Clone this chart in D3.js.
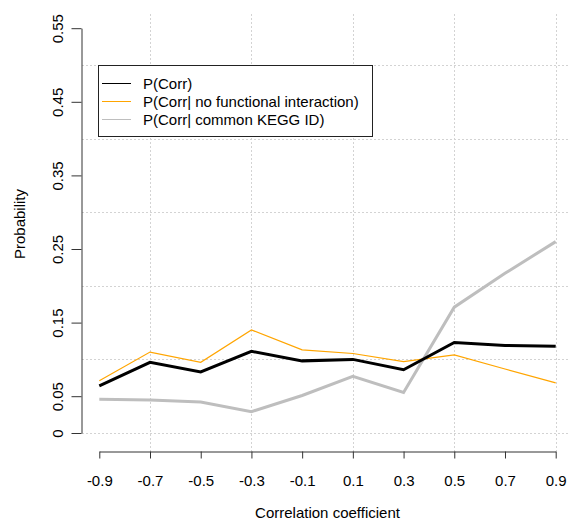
<!DOCTYPE html>
<html>
<head>
<meta charset="utf-8">
<script src="https://cdn.jsdelivr.net/npm/d3@7"></script>
<style>
body { margin: 0; background: #fff; }
text { font-family: "Liberation Sans", Arial, sans-serif; }
</style>
</head>
<body>
<script>
//chart values
var xVals = [-0.9, -0.7, -0.5, -0.3, -0.1, 0.1, 0.3, 0.5, 0.7, 0.9];
var xTickLabels = ["-0.9", "-0.7", "-0.5", "-0.3", "-0.1", "0.1", "0.3", "0.5", "0.7", "0.9"];
var pCorr = [0.064, 0.096, 0.083, 0.111, 0.098, 0.100, 0.086, 0.123, 0.119, 0.118];
var pNoFunc = [0.071, 0.110, 0.096, 0.140, 0.113, 0.108, 0.097, 0.106, 0.087, 0.068];
var pKegg = [0.046, 0.045, 0.042, 0.029, 0.051, 0.077, 0.055, 0.171, 0.217, 0.260];
var yTicks = [0, 0.05, 0.15, 0.25, 0.35, 0.45, 0.55];
var yTickLabels = ["0", "0.05", "0.15", "0.25", "0.35", "0.45", "0.55"];
var xGrid = [-0.7, -0.3, 0.1, 0.5, 0.9];
var yGrid = [0, 0.1, 0.2, 0.3, 0.4, 0.5];
var legendLabels = ["P(Corr)", "P(Corr| no functional interaction)", "P(Corr| common KEGG ID)"];
var legendColors = ["#000000", "#ffa500", "#bebebe"];

window.onload = drawChart();

function drawChart(){

    var width = 568,
        height = 525;

    var svg = d3.select("body")
        .append("svg")
        .attr("width", width)
        .attr("height", height);

    var x = d3.scaleLinear().domain([-0.9, 0.9]).range([99.3, 555.7]);
    var y = d3.scaleLinear().domain([0, 0.55]).range([433, 28.2]);

    //dotted grid
    var grid = svg.append("g")
        .attr("stroke", "#d3d3d3")
        .attr("stroke-width", 1)
        .attr("stroke-dasharray", "2,2");
    grid.selectAll(".vgrid")
        .data(xGrid)
        .enter()
        .append("line")
        .attr("x1", function(d){ return Math.round(x(d)) + 0.5; })
        .attr("x2", function(d){ return Math.round(x(d)) + 0.5; })
        .attr("y1", 14)
        .attr("y2", 451);
    grid.selectAll(".hgrid")
        .data(yGrid)
        .enter()
        .append("line")
        .attr("x1", 82)
        .attr("x2", width)
        .attr("y1", function(d){ return Math.round(y(d)) + 0.5; })
        .attr("y2", function(d){ return Math.round(y(d)) + 0.5; });

    //series lines
    var series = [
        {vals: pKegg, color: "#bebebe", w: 3},
        {vals: pNoFunc, color: "#ffa500", w: 1.2},
        {vals: pCorr, color: "#000", w: 3}
    ];
    var line = d3.line()
        .x(function(d, i){ return x(xVals[i]); })
        .y(function(d){ return y(d); });
    svg.selectAll(".series")
        .data(series)
        .enter()
        .append("path")
        .attr("fill", "none")
        .attr("stroke", function(d){ return d.color; })
        .attr("stroke-width", function(d){ return d.w; })
        .attr("d", function(d){ return line(d.vals); });

    //y axis
    var yAxis = svg.append("g")
        .attr("transform", "translate(81.5,0)")
        .call(d3.axisLeft(y)
            .tickValues(yTicks)
            .tickSize(10)
            .tickPadding(0)
            .tickSizeOuter(0)
            .tickFormat(function(d, i){ return yTickLabels[i]; }));
    yAxis.select(".domain").attr("stroke", "#333");
    yAxis.selectAll(".tick line").attr("stroke", "#333");
    yAxis.selectAll(".tick text")
        .attr("x", 0)
        .attr("dy", null)
        .attr("fill", "#000")
        .attr("font-size", 15)
        .attr("text-anchor", "middle")
        .attr("transform", "translate(-19,0) rotate(-90)");

    //x axis
    var xAxis = svg.append("g")
        .attr("transform", "translate(0,451.5)")
        .call(d3.axisBottom(x)
            .tickValues(xVals)
            .tickSize(7)
            .tickSizeOuter(0)
            .tickFormat(function(d, i){ return xTickLabels[i]; }));
    xAxis.select(".domain").attr("stroke", "#333");
    xAxis.selectAll(".tick line").attr("stroke", "#333");
    xAxis.selectAll(".tick text")
        .attr("y", 34.5)
        .attr("dy", null)
        .attr("fill", "#000")
        .attr("font-size", 15);

    //axis titles
    svg.append("text")
        .attr("x", 327.5)
        .attr("y", 518)
        .attr("text-anchor", "middle")
        .attr("font-size", 15)
        .text("Correlation coefficient");
    svg.append("text")
        .attr("transform", "translate(25,224) rotate(-90)")
        .attr("text-anchor", "middle")
        .attr("font-size", 15)
        .text("Probability");

    //legend
    var legendData = legendLabels.map(function(d, i){
        return {label: d, color: legendColors[i], row: i};
    });
    var legend = svg.append("g");
    legend.append("rect")
        .attr("x", 98.5)
        .attr("y", 65.5)
        .attr("width", 274)
        .attr("height", 71)
        .attr("fill", "#fff")
        .attr("stroke", "#222");
    legend.selectAll(".legline")
        .data(legendData)
        .enter()
        .append("line")
        .attr("x1", 102)
        .attr("x2", 131)
        .attr("y1", function(d){ return 83.5 + d.row * 18; })
        .attr("y2", function(d){ return 83.5 + d.row * 18; })
        .style("stroke", function(d){ return d.color; })
        .style("stroke-width", "1px");
    legend.selectAll(".legtext")
        .data(legendData)
        .enter()
        .append("text")
        .attr("x", 143)
        .attr("y", function(d){ return 88.5 + d.row * 18; })
        .attr("font-size", 15)
        .text(function(d){ return d.label; });
}
</script>
</body>
</html>
